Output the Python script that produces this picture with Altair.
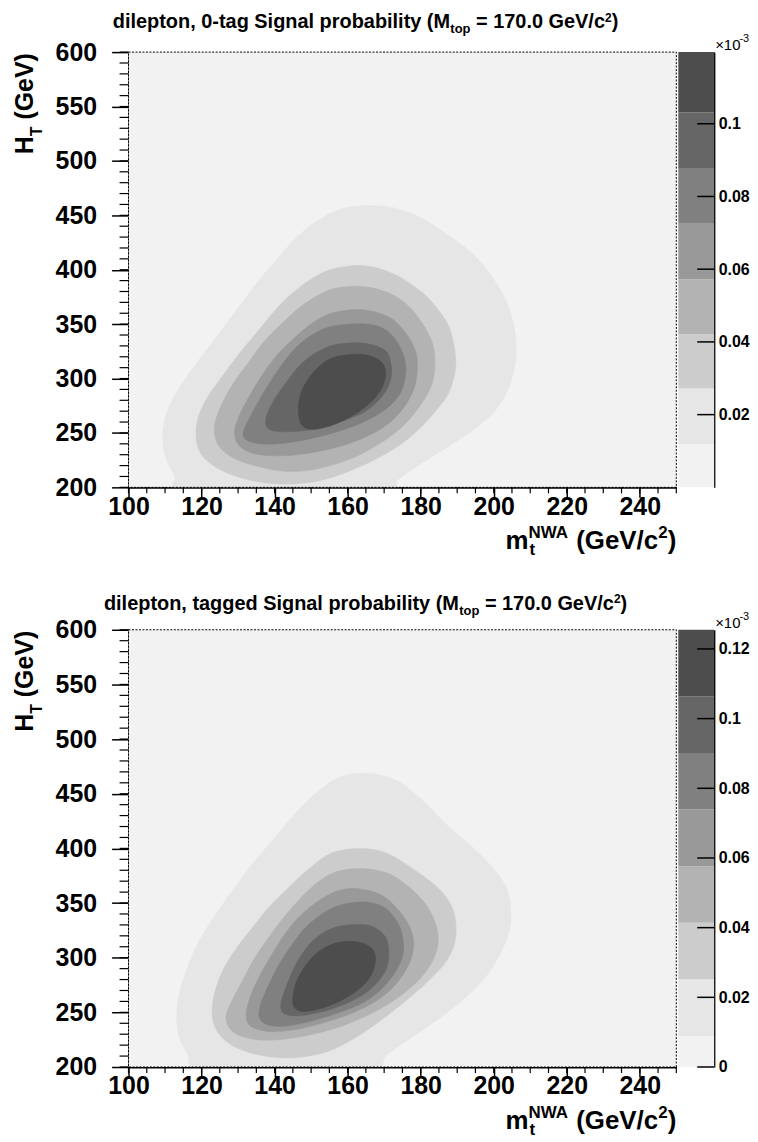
import altair as alt
import pandas as pd

FONT = "Liberation Sans"
W = 550
H_TOP, H_BOT = 437, 439
CB_W = 36

GRAYS = ["#f2f2f2", "#e6e6e6", "#cccccc", "#b3b3b3", "#999999", "#808080", "#666666", "#4d4d4d"]

# ---------------- contour outlines, top panel (0-tag) : (m_t, H_T) ----------------
T1_MT = [165.8, 158.6, 151.3, 145.8, 141.3, 135.8, 130.3, 124.9, 119.4, 114.8, 111.2, 109.6, 109.4, 110.3, 112.6, 114.8, 142.2, 170.4, 174.0, 181.3, 188.6, 195.9, 201.4, 204.6, 206.1, 205.7, 203.6, 199.5, 194.1, 186.8, 179.5, 172.2]
T1_HT = [458.8, 456.3, 444.1, 428.9, 412.1, 390.7, 366.3, 341.9, 317.5, 296.1, 274.8, 256.5, 241.2, 226.0, 210.7, 195.5, 186.0, 195.5, 207.6, 224.4, 239.7, 256.5, 274.8, 296.1, 320.5, 345.0, 369.4, 393.8, 415.1, 433.4, 448.7, 457.2]
T2_MT = [164.0, 155.8, 150.4, 144.9, 140.3, 135.8, 131.2, 126.7, 122.1, 119.2, 118.5, 119.9, 124.0, 130.3, 137.6, 144.9, 152.2, 159.5, 166.8, 174.0, 179.5, 184.1, 187.7, 189.5, 189.3, 187.7, 184.1, 179.5, 172.2]
T2_HT = [403.8, 400.5, 392.2, 378.5, 363.3, 345.0, 326.6, 306.8, 285.4, 265.6, 245.8, 230.5, 218.3, 209.2, 204.0, 203.1, 206.1, 213.7, 224.4, 238.2, 253.4, 270.2, 287.0, 308.3, 326.6, 348.0, 366.3, 381.6, 396.8]
T3_MT = [164.0, 155.8, 148.5, 143.1, 137.6, 133.1, 128.5, 124.9, 123.5, 124.7, 128.5, 134.0, 141.3, 148.5, 155.8, 163.1, 170.4, 175.9, 180.4, 183.2, 183.9, 183.2, 180.4, 176.8, 171.3]
T3_HT = [384.6, 382.2, 369.4, 354.1, 335.8, 316.0, 294.6, 271.7, 253.4, 238.2, 227.5, 220.5, 215.3, 215.3, 220.5, 229.6, 243.7, 258.9, 277.8, 296.1, 314.4, 332.7, 351.0, 366.3, 378.5]
T4_MT = [164.0, 155.8, 150.4, 145.4, 140.8, 136.7, 133.1, 130.3, 129.0, 130.3, 134.0, 139.4, 146.7, 155.8, 164.0, 170.4, 175.0, 178.1, 179.1, 178.6, 175.9, 171.3]
T4_HT = [363.3, 360.2, 351.0, 337.3, 322.1, 303.8, 283.9, 265.6, 250.4, 238.2, 231.4, 229.0, 230.2, 235.7, 244.9, 256.5, 271.7, 290.0, 308.3, 325.1, 341.9, 356.5]
T5_MT = [164.0, 155.8, 150.4, 145.8, 141.7, 138.1, 134.9, 132.1, 131.4, 133.5, 138.5, 146.7, 155.8, 164.0, 170.4, 174.5, 175.9, 175.4, 173.1, 169.5]
T5_HT = [350.4, 348.0, 340.4, 328.2, 311.4, 293.1, 274.8, 256.5, 247.3, 241.8, 239.7, 242.7, 249.8, 259.5, 271.7, 287.0, 305.3, 320.5, 335.8, 346.5]
T6_MT = [164.0, 156.7, 151.3, 146.7, 143.1, 139.4, 137.6, 138.5, 143.1, 150.4, 158.6, 165.0, 169.5, 171.8, 171.8, 170.0]
T6_HT = [332.7, 331.2, 323.6, 311.4, 296.1, 277.8, 262.6, 253.4, 251.0, 253.4, 261.0, 270.2, 283.9, 299.2, 314.4, 326.6]
T7_MT = [161.3, 155.8, 151.3, 147.6, 146.5, 147.6, 151.3, 157.7, 164.0, 168.6, 170.4, 169.5, 165.9]
T7_HT = [322.1, 319.0, 308.3, 290.0, 271.7, 256.5, 253.4, 259.5, 271.7, 287.0, 302.2, 314.4, 321.1]

# ---------------- contour outlines, bottom panel (tagged) ----------------
B1_MT = [164.9, 157.7, 151.3, 144.9, 139.4, 134.0, 128.5, 124.0, 119.4, 116.2, 113.9, 113.2, 113.9, 116.2, 119.4, 142.2, 166.8, 170.4, 176.8, 184.1, 191.3, 197.7, 201.8, 204.3, 204.7, 203.4, 199.5, 194.1, 187.7, 180.4, 173.1]
B1_HT = [468.7, 465.1, 450.4, 429.0, 407.5, 386.1, 361.6, 340.2, 315.7, 291.2, 266.7, 245.3, 226.9, 211.6, 196.3, 184.0, 196.3, 210.1, 225.4, 242.2, 260.6, 282.0, 303.5, 324.9, 343.3, 364.7, 383.0, 401.4, 419.8, 444.3, 462.6]
B2_MT = [164.0, 155.8, 149.5, 144.0, 138.5, 134.0, 129.4, 125.8, 123.5, 122.9, 124.1, 127.6, 133.1, 140.3, 147.6, 154.9, 162.2, 169.5, 175.9, 182.2, 186.8, 189.1, 189.7, 188.6, 185.0, 179.5, 171.3]
B2_HT = [399.9, 395.9, 381.5, 364.7, 346.3, 327.9, 308.0, 288.2, 266.7, 248.4, 233.7, 221.4, 213.2, 208.6, 209.2, 214.7, 226.9, 243.8, 260.6, 279.0, 295.8, 311.1, 327.9, 346.3, 363.1, 377.5, 394.7]
B3_MT = [164.0, 156.7, 151.3, 146.7, 142.2, 138.1, 134.4, 131.2, 128.1, 126.7, 128.1, 132.1, 138.5, 146.7, 155.8, 163.1, 170.4, 176.8, 181.3, 184.1, 184.8, 183.6, 180.9, 176.8, 171.3]
B3_HT = [381.5, 378.5, 367.7, 353.0, 335.6, 317.2, 298.9, 279.0, 259.1, 245.3, 233.7, 226.9, 224.5, 227.5, 234.6, 243.8, 256.0, 271.3, 286.6, 303.5, 318.8, 335.6, 350.9, 364.7, 376.9]
B4_MT = [163.1, 157.7, 152.2, 147.6, 143.5, 139.9, 136.7, 134.0, 132.3, 132.9, 136.2, 141.3, 148.5, 155.8, 163.1, 169.5, 174.0, 177.2, 178.1, 176.8, 174.0, 169.5]
B4_HT = [363.1, 361.6, 352.4, 340.2, 324.9, 306.5, 288.2, 269.8, 251.4, 239.2, 233.7, 232.4, 236.1, 242.9, 252.0, 264.3, 279.0, 297.3, 314.2, 329.5, 343.3, 357.0]
B5_MT = [163.1, 157.7, 153.1, 148.5, 144.9, 141.3, 138.5, 136.2, 135.8, 137.6, 142.2, 148.5, 155.8, 163.1, 168.6, 172.7, 175.0, 175.2, 173.9, 170.6, 166.8]
B5_HT = [350.9, 347.8, 340.2, 327.9, 312.6, 294.3, 275.9, 257.5, 245.9, 239.2, 237.3, 240.7, 247.8, 256.9, 269.2, 285.1, 301.0, 315.7, 331.0, 344.8, 350.0]
B6_MT = [162.2, 156.7, 152.2, 148.5, 145.4, 143.1, 141.7, 142.6, 146.7, 154.0, 161.3, 166.8, 170.4, 171.3, 170.4, 166.8]
B6_HT = [330.4, 327.9, 320.3, 308.0, 291.2, 272.8, 257.5, 249.0, 246.8, 251.4, 260.6, 272.8, 288.2, 303.5, 318.8, 328.6]
B7_MT = [157.7, 153.1, 149.5, 146.5, 145.1, 145.4, 148.5, 154.9, 161.3, 165.8, 167.6, 166.8, 163.1]
B7_HT = [314.2, 308.0, 297.3, 282.0, 266.7, 254.5, 250.8, 256.0, 266.7, 280.5, 295.8, 308.0, 314.2]

# ---------------- palette (colour bar) level edges, in units of 1e-3 ----------------
TOP_EDGES = [0.0, 0.0119, 0.0272, 0.0421, 0.0572, 0.0725, 0.0878, 0.1031, 0.1197]
BOT_EDGES = [0.0, 0.0089, 0.0252, 0.0414, 0.0576, 0.0739, 0.0901, 0.1064, 0.1255]
TOP_CB_TICKS = [0.02, 0.04, 0.06, 0.08, 0.1]
BOT_CB_TICKS = [0.0, 0.02, 0.04, 0.06, 0.08, 0.1, 0.12]

X_MAJOR = [100, 120, 140, 160, 180, 200, 220, 240]
X_MINOR = list(range(100, 251, 5))
Y_MAJOR = [200, 250, 300, 350, 400, 450, 500, 550, 600]
Y_MINOR = list(range(200, 601, 10))

TITLE_TOP = "dilepton, 0-tag Signal probability (M"
TITLE_BOT = "dilepton, tagged Signal probability (M"

# Arial/Liberation Sans Bold advance widths (per 1000 em)
AW = {" ": 278, ",": 278, "-": 333, ".": 278, "/": 278, "(": 333, ")": 333, "=": 584,
      "0": 556, "1": 556, "2": 556, "3": 556, "7": 556, "\u00d7": 584,
      "A": 722, "G": 778, "H": 722, "M": 833, "N": 722, "S": 667, "T": 611, "V": 667, "W": 944,
      "a": 556, "b": 611, "c": 556, "d": 611, "e": 556, "g": 611, "i": 278, "l": 278, "m": 889,
      "n": 611, "o": 611, "p": 611, "r": 389, "t": 333, "y": 556}


def tw(s, size):
    return sum(AW.get(c, 556) for c in s) * size / 1000.0


ONE = pd.DataFrame({"k": [0]})


def txt(s, x, y, size, angle=0, weight="bold", align="left"):
    return alt.Chart(ONE).mark_text(
        text=s, font=FONT, fontSize=size, fontWeight=weight, align=align,
        baseline="alphabetic", angle=angle, color="black"
    ).encode(x=alt.value(x), y=alt.value(y))


def lead(s, size):
    st = s.lstrip(" ")
    return st, tw(s[: len(s) - len(st)], size)


def rich(segs, x0, y0):
    out, x = [], x0
    for s, size, dy in segs:
        st, off = lead(s, size)
        out.append(txt(st, x + off, y0 + dy, size))
        x += tw(s, size)
    return out


def rich_up(segs, x0, y0):
    out, y = [], y0
    for s, size, dy in segs:
        st, off = lead(s, size)
        out.append(txt(st, x0 + dy, y - off, size, angle=270))
        y -= tw(s, size)
    return out


XS = alt.Scale(domain=[100, 250], nice=False, zero=False)
YS = alt.Scale(domain=[200, 600], nice=False, zero=False)
XAXIS = alt.Axis(values=X_MAJOR, title=None, grid=False, tickSize=10, tickWidth=1.5, tickColor="black",
                 domainColor="black", domainWidth=2, labelFont=FONT, labelFontSize=25,
                 labelFontWeight="bold", labelColor="black", labelPadding=-3, labelFlush=False,
                 labelOverlap=False)
YAXIS = alt.Axis(values=Y_MAJOR, title=None, grid=False, tickSize=17, tickWidth=1.5, tickColor="black",
                 domainColor="black", domainWidth=2, labelFont=FONT, labelFontSize=25,
                 labelFontWeight="bold", labelColor="black", labelPadding=15, labelFlush=False,
                 labelOverlap=False)


def panel(contours, title_main, h, title_y, anchor=False):
    box = pd.DataFrame({"x": [100], "x2": [250], "y": [200], "y2": [600]})
    layers = []
    layers.append(alt.Chart(box).mark_rect(color=GRAYS[0]).encode(
        x=alt.X("x:Q", scale=XS, axis=XAXIS), x2="x2:Q",
        y=alt.Y("y:Q", scale=YS, axis=YAXIS), y2="y2:Q"))
    for k, (mt, ht) in enumerate(contours, start=1):
        df = pd.DataFrame({"mt": mt, "ht": ht, "i": list(range(len(mt)))})
        layers.append(alt.Chart(df).mark_line(
            filled=True, interpolate="cardinal-closed", clip=True,
            color=GRAYS[k], stroke=GRAYS[k], strokeWidth=0.5
        ).encode(x=alt.X("mt:Q", scale=XS, axis=XAXIS), y=alt.Y("ht:Q", scale=YS, axis=YAXIS),
                 order=alt.Order("i:Q")))
    # frame (top / right dotted)
    layers.append(alt.Chart(box).mark_rect(fillOpacity=0, stroke="black", strokeWidth=1,
                                           strokeDash=[2, 1.5]).encode(
        x=alt.X("x:Q", scale=XS, axis=XAXIS), x2="x2:Q",
        y=alt.Y("y:Q", scale=YS, axis=YAXIS), y2="y2:Q"))
    # minor ticks
    layers.append(alt.Chart(pd.DataFrame({"v": X_MINOR})).mark_rule(color="black", strokeWidth=1.2).encode(
        x=alt.X("v:Q", scale=XS, axis=XAXIS), y=alt.value(h), y2=alt.value(h + 6)))
    layers.append(alt.Chart(pd.DataFrame({"v": Y_MINOR})).mark_rule(color="black", strokeWidth=1.2).encode(
        y=alt.Y("v:Q", scale=YS, axis=YAXIS), x=alt.value(-9), x2=alt.value(0)))

    # title
    tsegs = [(title_main, 20, 0), ("top", 13, 5), (" = 170.0 GeV/c", 20, 0), ("2", 12, -6.5), (")", 20, 0)]
    tot = sum(tw(s, z) for s, z, _ in tsegs)
    layers += rich(tsegs, 238 - tot / 2, title_y)

    # y-axis title  H_T (GeV)
    ysegs = [("H", 25, 0), ("T", 16, 9), (" (GeV)", 25, 0)]
    ytot = sum(tw(s, z) for s, z, _ in ysegs)
    layers += rich_up(ysegs, -96, 1 + ytot)

    # x-axis title  m_t^NWA (GeV/c^2)
    S, s = 26, 17
    xtot = tw("m", S) + tw("NWA", s) + tw(" (GeV/c", S) + tw("2", s) + tw(")", S)
    x0 = W - xtot
    by = h + 62
    layers.append(txt("m", x0, by, S))
    x1 = x0 + tw("m", S)
    layers.append(txt("t", x1 + 1, by + 6, s))
    layers.append(txt("NWA", x1, by - 11, s))
    x2 = x1 + tw("NWA", s)
    layers.append(txt("(GeV/c", x2 + tw(" ", S), by, S))
    x3 = x2 + tw(" (GeV/c", S)
    layers.append(txt("2", x3, by - 11, s))
    layers.append(txt(")", x3 + tw("2", s), by, S))

    if anchor:
        layers.append(alt.Chart(ONE).mark_rect(opacity=0).encode(
            x=alt.value(-121), x2=alt.value(-120), y=alt.value(-42), y2=alt.value(-41)))
    return alt.layer(*layers).properties(width=W, height=h)


def colorbar(edges, ticks, h):
    df = pd.DataFrame({"lo": edges[:-1], "hi": edges[1:], "c": GRAYS})
    ys = alt.Scale(domain=[0, edges[-1]], nice=False, zero=False)
    ax = alt.Axis(orient="right", values=ticks, format="~g", ticks=False, domain=True,
                  domainColor="black", domainWidth=1.5, labelFont=FONT, labelFontSize=16,
                  labelFontWeight="bold", labelColor="black", labelPadding=4, grid=False,
                  title=None, labelFlush=False, labelOverlap=False)
    bands = alt.Chart(df).mark_rect().encode(
        x=alt.value(0), x2=alt.value(CB_W),
        y=alt.Y("lo:Q", scale=ys, axis=ax), y2="hi:Q",
        color=alt.Color("c:N", scale=None))
    tk = alt.Chart(pd.DataFrame({"v": ticks})).mark_rule(color="black", strokeWidth=1.5).encode(
        y=alt.Y("v:Q", scale=ys, axis=ax), x=alt.value(CB_W - 17), x2=alt.value(CB_W))
    mult = [txt("\u00d710", CB_W + 1, -2, 15, weight="normal"),
            txt("-3", CB_W + 1 + tw("\u00d710", 15) * 0.92 + 1, -10, 11, weight="normal")]
    return alt.layer(bands, tk, *mult).properties(width=CB_W, height=h)


top_contours = [(T1_MT, T1_HT), (T2_MT, T2_HT), (T3_MT, T3_HT), (T4_MT, T4_HT),
                (T5_MT, T5_HT), (T6_MT, T6_HT), (T7_MT, T7_HT)]
bot_contours = [(B1_MT, B1_HT), (B2_MT, B2_HT), (B3_MT, B3_HT), (B4_MT, B4_HT),
                (B5_MT, B5_HT), (B6_MT, B6_HT), (B7_MT, B7_HT)]

chart = alt.concat(
    panel(top_contours, TITLE_TOP, H_TOP, -24, anchor=True), colorbar(TOP_EDGES, TOP_CB_TICKS, H_TOP),
    panel(bot_contours, TITLE_BOT, H_BOT, -20), colorbar(BOT_EDGES, BOT_CB_TICKS, H_BOT),
    columns=2, spacing={"row": 143, "column": 2}, bounds="flush"
).properties(
    padding=0, background="white"
).configure_view(strokeWidth=0)

chart.save("out.html", embed_options={"renderer": "svg", "actions": False})
